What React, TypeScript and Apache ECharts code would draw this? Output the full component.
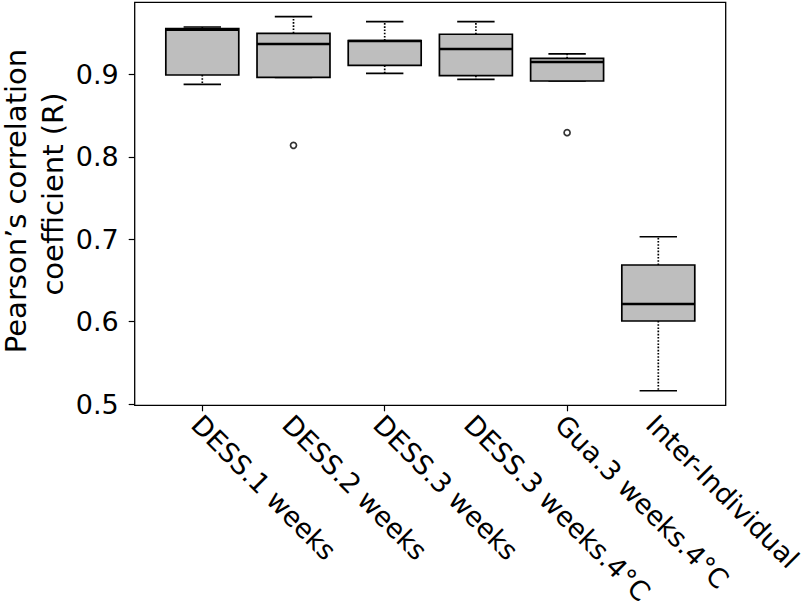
import React, { useEffect, useRef } from "react";
import * as echarts from "echarts";

const categories = [
  "DESS.1 weeks",
  "DESS.2 weeks",
  "DESS.3 weeks",
  "DESS.3 weeks.4°C",
  "Gua.3 weeks.4°C",
  "Inter-Individual",
];
// [lower whisker, Q1, median, Q3, upper whisker]
const lowerWhisker = [0.888, 0.8965, 0.9013, 0.894, 0.892, 0.5161];
const q1 = [0.8993, 0.8965, 0.911, 0.8985, 0.892, 0.6007];
const median = [0.9542, 0.9369, 0.9405, 0.9308, 0.915, 0.6214];
const q3 = [0.9555, 0.9499, 0.9409, 0.9487, 0.9195, 0.6687];
const upperWhisker = [0.9575, 0.970, 0.964, 0.964, 0.9248, 0.703];
const outlierIndex = [1, 4];
const outlierValue = [0.8139, 0.8293];
const yTicks = [0.5, 0.6, 0.7, 0.8, 0.9];
const yTitleLine1 = "Pearson\u2019s correlation";
const yTitleLine2 = "coefficient (R)";

const FONT = "DejaVu Sans";

export default function App() {
  const ref = useRef<HTMLDivElement>(null);
  useEffect(() => {
    if (!ref.current) return;
    const chart = echarts.init(ref.current, undefined, { renderer: "svg" });
    const boxData = categories.map((_, i) => [
      i,
      lowerWhisker[i],
      q1[i],
      median[i],
      q3[i],
      upperWhisker[i],
    ]);
    const outliers = outlierIndex.map((c, i) => [c, outlierValue[i]]);
    const gridTop = 2.3;
    const gridBottom = 608 - 405.3;
    const yMin = 0.5 - 1.3 / 824;
    const yMax = 0.5 + (404 - 2.3) / 824;

    chart.setOption({
      animation: false,
      grid: [
        { left: 156.7, width: 547.2, top: gridTop, bottom: gridBottom, show: false },
        { left: 150.7, width: 547.2, top: gridTop, bottom: gridBottom, show: false },
      ],
      xAxis: [
        {
          type: "category",
          gridIndex: 0,
          data: categories,
          boundaryGap: true,
          axisLine: { show: false },
          axisTick: { show: true, alignWithLabel: true, length: 6, lineStyle: { color: "#000", width: 1.2 } },
          axisLabel: { show: false },
          splitLine: { show: false },
        },
        {
          type: "category",
          gridIndex: 1,
          data: categories,
          boundaryGap: true,
          axisLine: { show: false },
          axisTick: { show: false },
          axisLabel: {
            show: true,
            rotate: -45,
            margin: 26,
            interval: 0,
            color: "#000",
            fontFamily: FONT,
            fontSize: 27,
          },
          splitLine: { show: false },
        },
      ],
      yAxis: [
        {
          type: "value",
          gridIndex: 0,
          min: yMin,
          max: yMax,
          offset: 22,
          axisLine: { show: false },
          axisTick: { show: true, length: 6, customValues: yTicks, lineStyle: { color: "#000", width: 1.2 } },
          axisLabel: {
            show: true,
            customValues: yTicks,
            margin: 16,
            color: "#000",
            fontFamily: FONT,
            fontSize: 27,
            formatter: (v: number) => v.toFixed(1),
          },
          splitLine: { show: false },
        },
        {
          type: "value",
          gridIndex: 1,
          min: yMin,
          max: yMax,
          show: false,
        },
      ],
      graphic: [
        {
          type: "rect",
          shape: { x: 134.7, y: 2.3, width: 591, height: 403 },
          style: { fill: "none", stroke: "#000", lineWidth: 1.3 },
          z: 10,
        },
        {
          type: "text",
          x: 15.5,
          y: 201,
          rotation: Math.PI / 2,
          style: {
            text: yTitleLine1,
            font: `29px "${FONT}"`,
            lineHeight: 29,
            fill: "#000",
            align: "center",
            verticalAlign: "middle",
          },
        },
        {
          type: "text",
          x: 53,
          y: 194,
          rotation: Math.PI / 2,
          style: {
            text: yTitleLine2,
            font: `29px "${FONT}"`,
            lineHeight: 29,
            fill: "#000",
            align: "center",
            verticalAlign: "middle",
          },
        },
      ],
      series: [
        {
          type: "custom",
          xAxisIndex: 0,
          yAxisIndex: 0,
          encode: { x: 0, y: [1, 2, 3, 4, 5] },
          data: boxData,
          renderItem: (params: any, api: any) => {
            const idx = api.value(0);
            const pLow = api.coord([idx, api.value(1)]);
            const pQ1 = api.coord([idx, api.value(2)]);
            const pMed = api.coord([idx, api.value(3)]);
            const pQ3 = api.coord([idx, api.value(4)]);
            const pHigh = api.coord([idx, api.value(5)]);
            const band = api.size([1, 0])[0];
            const x = pLow[0];
            const bw = band * 0.4;
            const cw = band * 0.205;
            const dotted = { stroke: "#000", lineWidth: 1.7, lineDash: [1.6, 1.6], fill: "none" };
            const solid = { stroke: "#000", lineWidth: 1.7, fill: "none" };
            return {
              type: "group",
              children: [
                { type: "line", shape: { x1: x, y1: pQ3[1], x2: x, y2: pHigh[1] }, style: dotted },
                { type: "line", shape: { x1: x, y1: pQ1[1], x2: x, y2: pLow[1] }, style: dotted },
                { type: "line", shape: { x1: x - cw, y1: pHigh[1], x2: x + cw, y2: pHigh[1] }, style: solid },
                { type: "line", shape: { x1: x - cw, y1: pLow[1], x2: x + cw, y2: pLow[1] }, style: solid },
                {
                  type: "rect",
                  shape: { x: x - bw, y: pQ3[1], width: bw * 2, height: pQ1[1] - pQ3[1] },
                  style: { fill: "#bebebe", stroke: "#000", lineWidth: 1.7 },
                },
                {
                  type: "line",
                  shape: { x1: x - bw, y1: pMed[1], x2: x + bw, y2: pMed[1] },
                  style: { stroke: "#000", lineWidth: 2.4 },
                },
              ],
            };
          },
        },
        {
          type: "scatter",
          xAxisIndex: 0,
          yAxisIndex: 0,
          data: outliers,
          symbol: "circle",
          symbolSize: 6,
          itemStyle: { color: "#fff", borderColor: "#000", borderWidth: 1.7 },
        },
      ],
    });
    return () => chart.dispose();
  }, []);
  return (
    <div
      ref={ref}
      style={{ position: "fixed", left: 0, top: 0, width: 806, height: 608, background: "#fff" }}
    />
  );
}
